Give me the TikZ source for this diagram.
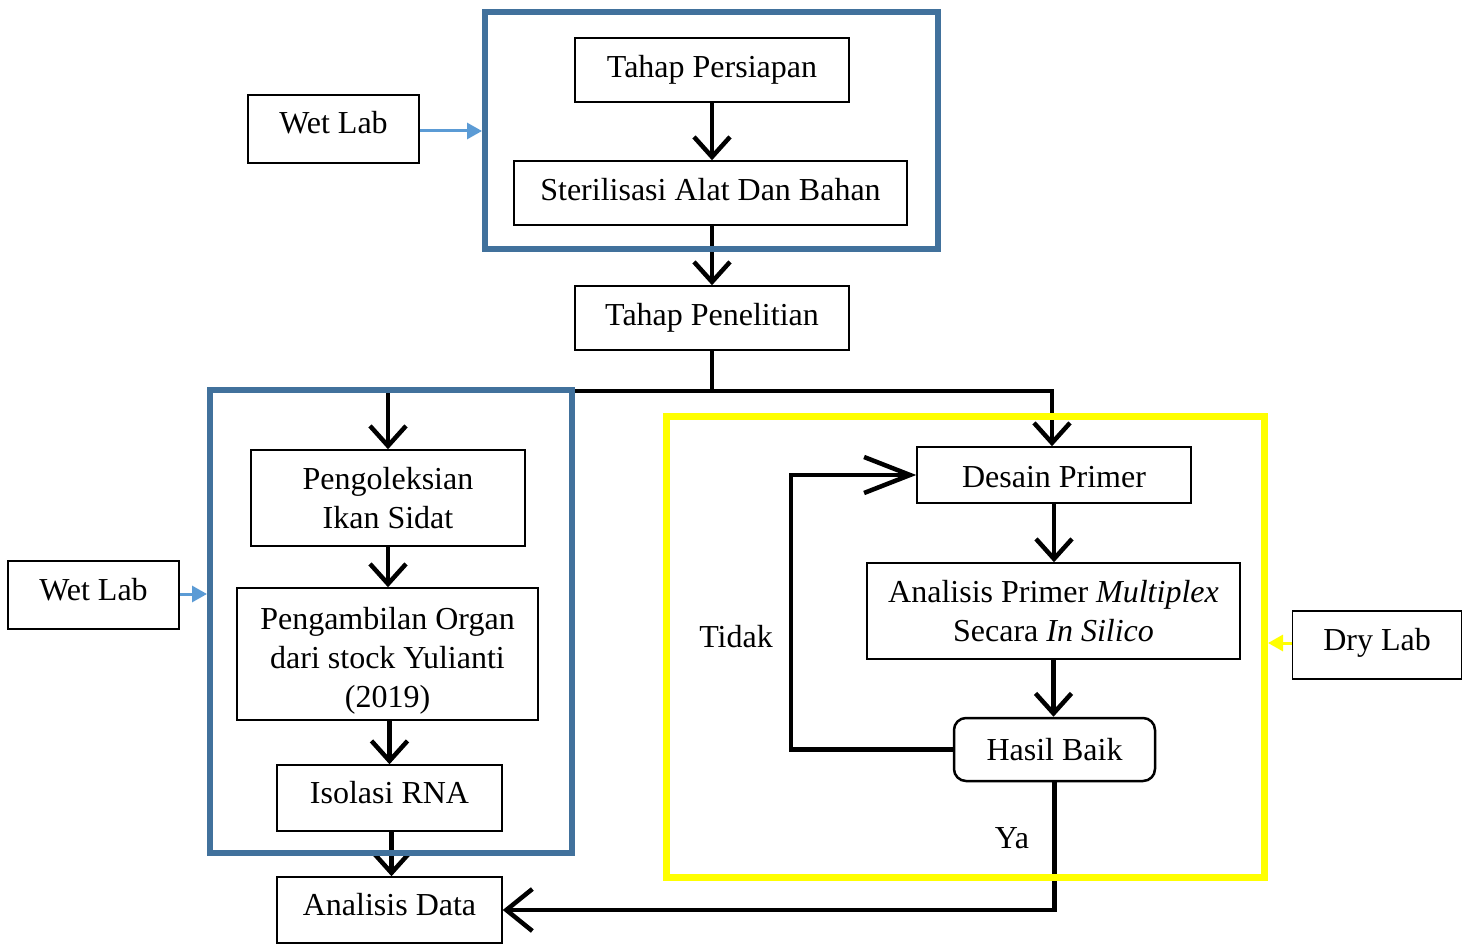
\documentclass[tikz,border=0pt]{standalone}
\usepackage{fontspec}
\setmainfont{Liberation Serif}
\usetikzlibrary{arrows.meta}
\definecolor{frameblue}{RGB}{65,113,156}
\definecolor{lightblue}{RGB}{91,155,213}
\definecolor{frameyellow}{RGB}{255,255,0}
\newcommand\upby[2]{\raisebox{#1}[\height][\depth]{#2}}
\tikzset{
  box/.style={draw=black, line width=1.5pt, fill=white, inner sep=0pt, align=center,
    font=\fontsize{32}{39}\selectfont},
  lbl/.style={inner sep=0pt, font=\fontsize{32}{39}\selectfont},
  conn/.style={line width=4.5pt, draw=black, line join=miter},
  stip/.style={-{Straight Barb[length=20pt,width=36pt]}},
  btip/.style={-{Straight Barb[length=46pt,width=36pt]}},
  mtip/.style={-{Straight Barb[length=26pt,width=42pt]}},
  bluearrow/.style={line width=3pt, draw=lightblue, -{Triangle[length=15pt,width=16pt]}},
  yelarrow/.style={line width=3pt, draw=frameyellow, -{Triangle[length=15pt,width=16pt]}},
  blueframe/.style={draw=frameblue, line width=6pt},
  yelframe/.style={draw=frameyellow, line width=7pt},
}
\begin{document}
\begin{tikzpicture}[x=1pt,y=-1pt]
\useasboundingbox[fill=white] (0,0) rectangle (1462,944);

% nodes
\node[box, minimum width=274pt, minimum height=64pt] (tp) at (712,70) {Tahap Persiapan};
\node[box, minimum width=393pt, minimum height=64pt] (st) at (710.5,193) {\upby{3pt}{Sterilisasi Alat Dan Bahan}};
\node[box, minimum width=274pt, minimum height=64pt] (tpn) at (712,318) {Tahap Penelitian};
\node[box, minimum width=171pt, minimum height=68pt] (wl1) at (333.5,129) {\upby{6pt}{Wet Lab}};
\node[box, minimum width=171pt, minimum height=68pt] (wl2) at (93.5,595) {\upby{5pt}{Wet Lab}};
\node[box, minimum width=274pt, minimum height=96pt] (pk) at (388,498) {Pengoleksian\\Ikan Sidat};
\node[box, minimum width=301pt, minimum height=132pt] (po) at (387.5,654) {\upby{-7pt}{\begin{tabular}{@{}c@{}}Pengambilan Organ\\dari stock Yulianti\\(2019)\end{tabular}}};
\node[box, minimum width=225pt, minimum height=66pt] (ir) at (389.5,798) {\upby{5pt}{Isolasi RNA}};
\node[box, minimum width=225pt, minimum height=66pt] (ad) at (389.5,910) {\upby{5pt}{Analisis Data}};
\node[box, minimum width=274pt, minimum height=56pt] (dp) at (1054,475) {\upby{-2pt}{Desain Primer}};
\node[box, minimum width=373pt, minimum height=96pt] (ap) at (1053.5,611) {Analisis Primer \textit{Multiplex}\\Secara \textit{In Silico}};
\node[box, line width=2.5pt, rounded corners=12pt, minimum width=201pt, minimum height=63pt] (hb) at (1054.5,749.5) {Hasil Baik};
\node[box, minimum width=169pt, minimum height=68pt] (dl) at (1377,645) {\upby{2pt}{Dry Lab}};
\node[lbl] (tdk) at (736,637) {Tidak};
\node[lbl] (ya) at (1012,838) {Ya};

% connectors
\draw[conn, stip] (tp.south) -- (tp.south |- st.north);
\draw[conn, stip] (tp.south |- st.south) -- (tpn.north);
\draw[conn] (tpn.south) -- ++(0,40) coordinate (j);
\draw[conn, stip] (j) -| (pk.north);
\draw[conn, stip] (j) -| ([xshift=-2pt]dp.north);
\draw[conn, stip] (pk.south) -- (po.north -| pk.south);
\draw[conn, stip] ([xshift=2pt]po.south) coordinate (a1) -- (a1 |- ir.north);
\draw[conn, stip] ([xshift=2pt]ir.south) coordinate (a2) -- (a2 |- ad.north);
\draw[conn, stip] (dp.south) -- (dp.south |- ap.north);
\draw[conn, stip] (ap.south) -- (ap.south |- hb.north);
\draw[conn, btip] (hb.west) -- ++(-162,0) coordinate (lp) |- (dp.west);
\draw[conn, mtip] (hb.south) |- (ad.east);

% frames
\draw[blueframe] (485,12) rectangle (938,249);
\draw[blueframe] (210,390) rectangle (572,853);
\draw[yelframe] (666,416) rectangle (1264,877);

% frame pointers
\coordinate (f1) at (482,131);
\coordinate (f2) at (207,594);
\coordinate (f3) at (1268,643);
\draw[bluearrow] (wl1.east |- f1) -- (f1);
\draw[bluearrow] (wl2.east |- f2) -- (f2);
\draw[yelarrow] (dl.west |- f3) -- (f3);
\end{tikzpicture}
\end{document}
